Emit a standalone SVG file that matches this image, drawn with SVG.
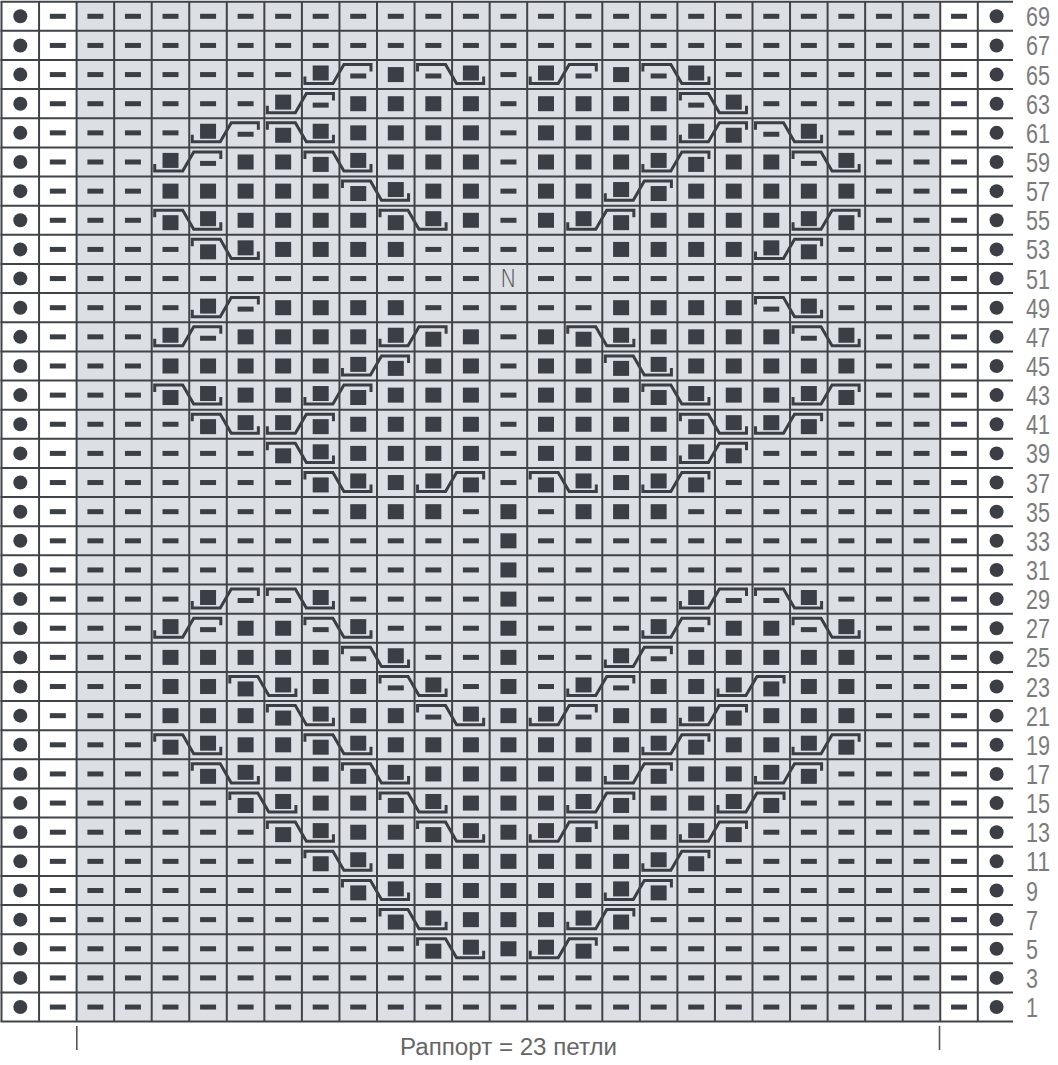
<svg xmlns="http://www.w3.org/2000/svg" xmlns:xlink="http://www.w3.org/1999/xlink" width="1058" height="1065" viewBox="0 0 1058 1065">
<style>
.k{fill:#3b3e44}
.cb{fill:none;stroke:#3b3e44;stroke-width:3}
.grid{fill:none;stroke:#404348;stroke-width:2}
.lbl{font-family:"Liberation Sans",Arial,sans-serif;font-size:27px;fill:#7c7c7c}
.cap{font-family:"Liberation Sans",Arial,sans-serif;font-size:23px;fill:#666666}
</style>
<defs>
<rect id="d" class="k" x="10.8" y="12.1" width="16" height="5"/>
<rect id="s" class="k" x="10.8" y="7.1" width="16" height="15"/>
<g id="L" class="k"><circle cx="20.3" cy="14.6" r="7"/><rect x="49.85" y="12.1" width="16" height="5"/></g>
<g id="Rt" class="k"><rect x="951.05" y="12.1" width="16" height="5"/><circle cx="996.6" cy="14.6" r="7"/></g>
<g id="D" class="k"><rect x="87.4" y="12.1" width="16" height="5"/><rect x="124.95" y="12.1" width="16" height="5"/><rect x="162.5" y="12.1" width="16" height="5"/><rect x="200.05" y="12.1" width="16" height="5"/><rect x="237.6" y="12.1" width="16" height="5"/><rect x="275.15" y="12.1" width="16" height="5"/><rect x="312.7" y="12.1" width="16" height="5"/><rect x="350.25" y="12.1" width="16" height="5"/><rect x="387.8" y="12.1" width="16" height="5"/><rect x="425.35" y="12.1" width="16" height="5"/><rect x="462.9" y="12.1" width="16" height="5"/><rect x="538" y="12.1" width="16" height="5"/><rect x="575.55" y="12.1" width="16" height="5"/><rect x="613.1" y="12.1" width="16" height="5"/><rect x="650.65" y="12.1" width="16" height="5"/><rect x="688.2" y="12.1" width="16" height="5"/><rect x="725.75" y="12.1" width="16" height="5"/><rect x="763.3" y="12.1" width="16" height="5"/><rect x="800.85" y="12.1" width="16" height="5"/><rect x="838.4" y="12.1" width="16" height="5"/><rect x="875.95" y="12.1" width="16" height="5"/><rect x="913.5" y="12.1" width="16" height="5"/></g>
<g id="rsd"><path class="cb" d="M3,16.6V23.6H31L42,4.5H69.1V11.5"/><rect class="k" x="10.8" y="5.5" width="16" height="15"/><rect class="k" x="48.35" y="13.5" width="16" height="5"/></g>
<g id="rss"><path class="cb" d="M3,16.6V23.6H31L42,4.5H69.1V11.5"/><rect class="k" x="10.8" y="5.5" width="16" height="15"/><rect class="k" x="48.35" y="9.5" width="16" height="15"/></g>
<g id="fds"><path class="cb" d="M3,11.5V4.5H31L42,23.6H69.1V16.6"/><rect class="k" x="10.8" y="13.5" width="16" height="5"/><rect class="k" x="48.35" y="5.5" width="16" height="15"/></g>
<g id="fss"><path class="cb" d="M3,11.5V4.5H31L42,23.6H69.1V16.6"/><rect class="k" x="10.8" y="9.5" width="16" height="15"/><rect class="k" x="48.35" y="5.5" width="16" height="15"/></g>
</defs>
<rect width="1058" height="1065" fill="#ffffff"/>
<rect x="76.6" y="1.7" width="863.65" height="1019.9" fill="#dcdfe3"/>
<g id="chart">
<g id="r69" transform="translate(0,1.7)"><use href="#L"/><use href="#Rt"/><use href="#D"/><use href="#d" x="489.65"/></g>
<g id="r67" transform="translate(0,30.84)"><use href="#L"/><use href="#Rt"/><use href="#D"/><use href="#d" x="489.65"/></g>
<g id="r65" transform="translate(0,59.98)"><use href="#L"/><use href="#Rt"/>
<use href="#d" x="76.6"/><use href="#d" x="114.15"/><use href="#d" x="151.7"/><use href="#d" x="189.25"/><use href="#d" x="226.8"/><use href="#d" x="264.35"/>
<use href="#rsd" x="301.9"/><use href="#s" x="377"/><use href="#fds" x="414.55"/><use href="#d" x="489.65"/><use href="#rsd" x="527.2"/><use href="#s" x="602.3"/><use href="#fds" x="639.85"/>
<use href="#d" x="714.95"/><use href="#d" x="752.5"/><use href="#d" x="790.05"/><use href="#d" x="827.6"/><use href="#d" x="865.15"/><use href="#d" x="902.7"/></g>
<g id="r63" transform="translate(0,89.12)"><use href="#L"/><use href="#Rt"/>
<use href="#d" x="76.6"/><use href="#d" x="114.15"/><use href="#d" x="151.7"/><use href="#d" x="189.25"/><use href="#d" x="226.8"/>
<use href="#rsd" x="264.35"/><use href="#s" x="339.45"/><use href="#s" x="377"/><use href="#s" x="414.55"/><use href="#s" x="452.1"/><use href="#d" x="489.65"/>
<use href="#s" x="527.2"/><use href="#s" x="564.75"/><use href="#s" x="602.3"/><use href="#s" x="639.85"/><use href="#fds" x="677.4"/>
<use href="#d" x="752.5"/><use href="#d" x="790.05"/><use href="#d" x="827.6"/><use href="#d" x="865.15"/><use href="#d" x="902.7"/></g>
<g id="r61" transform="translate(0,118.26)"><use href="#L"/><use href="#Rt"/>
<use href="#d" x="76.6"/><use href="#d" x="114.15"/><use href="#d" x="151.7"/>
<use href="#rsd" x="189.25"/><use href="#fss" x="264.35"/><use href="#s" x="339.45"/><use href="#s" x="377"/><use href="#s" x="414.55"/><use href="#s" x="452.1"/><use href="#d" x="489.65"/>
<use href="#s" x="527.2"/><use href="#s" x="564.75"/><use href="#s" x="602.3"/><use href="#s" x="639.85"/><use href="#rss" x="677.4"/><use href="#fds" x="752.5"/>
<use href="#d" x="827.6"/><use href="#d" x="865.15"/><use href="#d" x="902.7"/></g>
<g id="r59" transform="translate(0,147.4)"><use href="#L"/><use href="#Rt"/>
<use href="#d" x="76.6"/><use href="#d" x="114.15"/>
<use href="#rsd" x="151.7"/><use href="#s" x="226.8"/><use href="#s" x="264.35"/><use href="#fss" x="301.9"/><use href="#s" x="377"/><use href="#s" x="414.55"/><use href="#s" x="452.1"/><use href="#d" x="489.65"/>
<use href="#s" x="527.2"/><use href="#s" x="564.75"/><use href="#s" x="602.3"/><use href="#rss" x="639.85"/><use href="#s" x="714.95"/><use href="#s" x="752.5"/><use href="#fds" x="790.05"/>
<use href="#d" x="865.15"/><use href="#d" x="902.7"/></g>
<g id="r57" transform="translate(0,176.54)"><use href="#L"/><use href="#Rt"/>
<use href="#d" x="76.6"/><use href="#d" x="114.15"/>
<use href="#s" x="151.7"/><use href="#s" x="189.25"/><use href="#s" x="226.8"/><use href="#s" x="264.35"/><use href="#s" x="301.9"/><use href="#fss" x="339.45"/><use href="#s" x="414.55"/><use href="#s" x="452.1"/><use href="#d" x="489.65"/>
<use href="#s" x="527.2"/><use href="#s" x="564.75"/><use href="#rss" x="602.3"/><use href="#s" x="677.4"/><use href="#s" x="714.95"/><use href="#s" x="752.5"/><use href="#s" x="790.05"/><use href="#s" x="827.6"/>
<use href="#d" x="865.15"/><use href="#d" x="902.7"/></g>
<g id="r55" transform="translate(0,205.68)"><use href="#L"/><use href="#Rt"/>
<use href="#d" x="76.6"/><use href="#d" x="114.15"/>
<use href="#fss" x="151.7"/><use href="#s" x="226.8"/><use href="#s" x="264.35"/><use href="#s" x="301.9"/><use href="#s" x="339.45"/><use href="#fss" x="377"/><use href="#s" x="452.1"/><use href="#d" x="489.65"/>
<use href="#s" x="527.2"/><use href="#rss" x="564.75"/><use href="#s" x="639.85"/><use href="#s" x="677.4"/><use href="#s" x="714.95"/><use href="#s" x="752.5"/><use href="#rss" x="790.05"/>
<use href="#d" x="865.15"/><use href="#d" x="902.7"/></g>
<g id="r53" transform="translate(0,234.82)"><use href="#L"/><use href="#Rt"/>
<use href="#d" x="76.6"/><use href="#d" x="114.15"/><use href="#d" x="151.7"/>
<use href="#fss" x="189.25"/><use href="#s" x="264.35"/><use href="#s" x="301.9"/><use href="#s" x="339.45"/><use href="#s" x="377"/>
<use href="#d" x="414.55"/><use href="#d" x="452.1"/><use href="#d" x="489.65"/><use href="#d" x="527.2"/><use href="#d" x="564.75"/>
<use href="#s" x="602.3"/><use href="#s" x="639.85"/><use href="#s" x="677.4"/><use href="#s" x="714.95"/><use href="#rss" x="752.5"/>
<use href="#d" x="827.6"/><use href="#d" x="865.15"/><use href="#d" x="902.7"/></g>
<g id="r51" transform="translate(0,263.96)"><use href="#L"/><use href="#Rt"/><use href="#D"/>
<text x="508.4" y="23.5" text-anchor="middle" textLength="17" lengthAdjust="spacingAndGlyphs" style="font-family:'DejaVu Sans',sans-serif;font-weight:200;font-size:25px;fill:#55585d">N</text></g>
<g id="r49" transform="translate(0,293.1)"><use href="#L"/><use href="#Rt"/>
<use href="#d" x="76.6"/><use href="#d" x="114.15"/><use href="#d" x="151.7"/>
<use href="#rsd" x="189.25"/><use href="#s" x="264.35"/><use href="#s" x="301.9"/><use href="#s" x="339.45"/><use href="#s" x="377"/>
<use href="#d" x="414.55"/><use href="#d" x="452.1"/><use href="#d" x="489.65"/><use href="#d" x="527.2"/><use href="#d" x="564.75"/>
<use href="#s" x="602.3"/><use href="#s" x="639.85"/><use href="#s" x="677.4"/><use href="#s" x="714.95"/><use href="#fds" x="752.5"/>
<use href="#d" x="827.6"/><use href="#d" x="865.15"/><use href="#d" x="902.7"/></g>
<g id="r47" transform="translate(0,322.24)"><use href="#L"/><use href="#Rt"/>
<use href="#d" x="76.6"/><use href="#d" x="114.15"/>
<use href="#rsd" x="151.7"/><use href="#s" x="226.8"/><use href="#s" x="264.35"/><use href="#s" x="301.9"/><use href="#s" x="339.45"/><use href="#rss" x="377"/><use href="#s" x="452.1"/><use href="#d" x="489.65"/>
<use href="#s" x="527.2"/><use href="#fss" x="564.75"/><use href="#s" x="639.85"/><use href="#s" x="677.4"/><use href="#s" x="714.95"/><use href="#s" x="752.5"/><use href="#fds" x="790.05"/>
<use href="#d" x="865.15"/><use href="#d" x="902.7"/></g>
<g id="r45" transform="translate(0,351.38)"><use href="#L"/><use href="#Rt"/>
<use href="#d" x="76.6"/><use href="#d" x="114.15"/>
<use href="#s" x="151.7"/><use href="#s" x="189.25"/><use href="#s" x="226.8"/><use href="#s" x="264.35"/><use href="#s" x="301.9"/><use href="#rss" x="339.45"/><use href="#s" x="414.55"/><use href="#s" x="452.1"/><use href="#d" x="489.65"/>
<use href="#s" x="527.2"/><use href="#s" x="564.75"/><use href="#fss" x="602.3"/><use href="#s" x="677.4"/><use href="#s" x="714.95"/><use href="#s" x="752.5"/><use href="#s" x="790.05"/><use href="#s" x="827.6"/>
<use href="#d" x="865.15"/><use href="#d" x="902.7"/></g>
<g id="r43" transform="translate(0,380.52)"><use href="#L"/><use href="#Rt"/>
<use href="#d" x="76.6"/><use href="#d" x="114.15"/>
<use href="#fss" x="151.7"/><use href="#s" x="226.8"/><use href="#s" x="264.35"/><use href="#rss" x="301.9"/><use href="#s" x="377"/><use href="#s" x="414.55"/><use href="#s" x="452.1"/><use href="#d" x="489.65"/>
<use href="#s" x="527.2"/><use href="#s" x="564.75"/><use href="#s" x="602.3"/><use href="#fss" x="639.85"/><use href="#s" x="714.95"/><use href="#s" x="752.5"/><use href="#rss" x="790.05"/>
<use href="#d" x="865.15"/><use href="#d" x="902.7"/></g>
<g id="r41" transform="translate(0,409.66)"><use href="#L"/><use href="#Rt"/>
<use href="#d" x="76.6"/><use href="#d" x="114.15"/><use href="#d" x="151.7"/>
<use href="#fss" x="189.25"/><use href="#rss" x="264.35"/><use href="#s" x="339.45"/><use href="#s" x="377"/><use href="#s" x="414.55"/><use href="#s" x="452.1"/><use href="#d" x="489.65"/>
<use href="#s" x="527.2"/><use href="#s" x="564.75"/><use href="#s" x="602.3"/><use href="#s" x="639.85"/><use href="#fss" x="677.4"/><use href="#rss" x="752.5"/>
<use href="#d" x="827.6"/><use href="#d" x="865.15"/><use href="#d" x="902.7"/></g>
<g id="r39" transform="translate(0,438.8)"><use href="#L"/><use href="#Rt"/>
<use href="#d" x="76.6"/><use href="#d" x="114.15"/><use href="#d" x="151.7"/><use href="#d" x="189.25"/><use href="#d" x="226.8"/>
<use href="#fss" x="264.35"/><use href="#s" x="339.45"/><use href="#s" x="377"/><use href="#s" x="414.55"/><use href="#s" x="452.1"/><use href="#d" x="489.65"/>
<use href="#s" x="527.2"/><use href="#s" x="564.75"/><use href="#s" x="602.3"/><use href="#s" x="639.85"/><use href="#rss" x="677.4"/>
<use href="#d" x="752.5"/><use href="#d" x="790.05"/><use href="#d" x="827.6"/><use href="#d" x="865.15"/><use href="#d" x="902.7"/></g>
<g id="r37" transform="translate(0,467.94)"><use href="#L"/><use href="#Rt"/>
<use href="#d" x="76.6"/><use href="#d" x="114.15"/><use href="#d" x="151.7"/><use href="#d" x="189.25"/><use href="#d" x="226.8"/><use href="#d" x="264.35"/>
<use href="#fss" x="301.9"/><use href="#s" x="377"/><use href="#rss" x="414.55"/><use href="#d" x="489.65"/><use href="#fss" x="527.2"/><use href="#s" x="602.3"/><use href="#rss" x="639.85"/>
<use href="#d" x="714.95"/><use href="#d" x="752.5"/><use href="#d" x="790.05"/><use href="#d" x="827.6"/><use href="#d" x="865.15"/><use href="#d" x="902.7"/></g>
<g id="r35" transform="translate(0,497.08)"><use href="#L"/><use href="#Rt"/>
<use href="#d" x="76.6"/><use href="#d" x="114.15"/><use href="#d" x="151.7"/><use href="#d" x="189.25"/><use href="#d" x="226.8"/><use href="#d" x="264.35"/><use href="#d" x="301.9"/>
<use href="#s" x="339.45"/><use href="#s" x="377"/><use href="#s" x="414.55"/><use href="#d" x="452.1"/><use href="#s" x="489.65"/><use href="#d" x="527.2"/><use href="#s" x="564.75"/><use href="#s" x="602.3"/><use href="#s" x="639.85"/>
<use href="#d" x="677.4"/><use href="#d" x="714.95"/><use href="#d" x="752.5"/><use href="#d" x="790.05"/><use href="#d" x="827.6"/><use href="#d" x="865.15"/><use href="#d" x="902.7"/></g>
<g id="r33" transform="translate(0,526.22)"><use href="#L"/><use href="#Rt"/><use href="#D"/><use href="#s" x="489.65"/></g>
<g id="r31" transform="translate(0,555.36)"><use href="#L"/><use href="#Rt"/><use href="#D"/><use href="#s" x="489.65"/></g>
<g id="r29" transform="translate(0,584.5)"><use href="#L"/><use href="#Rt"/>
<use href="#d" x="76.6"/><use href="#d" x="114.15"/><use href="#d" x="151.7"/>
<use href="#rsd" x="189.25"/><use href="#fds" x="264.35"/><use href="#d" x="339.45"/><use href="#d" x="377"/><use href="#d" x="414.55"/><use href="#d" x="452.1"/><use href="#s" x="489.65"/>
<use href="#d" x="527.2"/><use href="#d" x="564.75"/><use href="#d" x="602.3"/><use href="#d" x="639.85"/><use href="#rsd" x="677.4"/><use href="#fds" x="752.5"/>
<use href="#d" x="827.6"/><use href="#d" x="865.15"/><use href="#d" x="902.7"/></g>
<g id="r27" transform="translate(0,613.64)"><use href="#L"/><use href="#Rt"/>
<use href="#d" x="76.6"/><use href="#d" x="114.15"/>
<use href="#rsd" x="151.7"/><use href="#s" x="226.8"/><use href="#s" x="264.35"/><use href="#fds" x="301.9"/><use href="#d" x="377"/><use href="#d" x="414.55"/><use href="#d" x="452.1"/><use href="#s" x="489.65"/>
<use href="#d" x="527.2"/><use href="#d" x="564.75"/><use href="#d" x="602.3"/><use href="#rsd" x="639.85"/><use href="#s" x="714.95"/><use href="#s" x="752.5"/><use href="#fds" x="790.05"/>
<use href="#d" x="865.15"/><use href="#d" x="902.7"/></g>
<g id="r25" transform="translate(0,642.78)"><use href="#L"/><use href="#Rt"/>
<use href="#d" x="76.6"/><use href="#d" x="114.15"/>
<use href="#s" x="151.7"/><use href="#s" x="189.25"/><use href="#s" x="226.8"/><use href="#s" x="264.35"/><use href="#s" x="301.9"/><use href="#fds" x="339.45"/><use href="#d" x="414.55"/><use href="#d" x="452.1"/><use href="#s" x="489.65"/>
<use href="#d" x="527.2"/><use href="#d" x="564.75"/><use href="#rsd" x="602.3"/><use href="#s" x="677.4"/><use href="#s" x="714.95"/><use href="#s" x="752.5"/><use href="#s" x="790.05"/><use href="#s" x="827.6"/>
<use href="#d" x="865.15"/><use href="#d" x="902.7"/></g>
<g id="r23" transform="translate(0,671.92)"><use href="#L"/><use href="#Rt"/>
<use href="#d" x="76.6"/><use href="#d" x="114.15"/>
<use href="#s" x="151.7"/><use href="#s" x="189.25"/><use href="#fss" x="226.8"/><use href="#s" x="301.9"/><use href="#s" x="339.45"/><use href="#fds" x="377"/><use href="#d" x="452.1"/><use href="#s" x="489.65"/>
<use href="#d" x="527.2"/><use href="#rsd" x="564.75"/><use href="#s" x="639.85"/><use href="#s" x="677.4"/><use href="#rss" x="714.95"/><use href="#s" x="790.05"/><use href="#s" x="827.6"/>
<use href="#d" x="865.15"/><use href="#d" x="902.7"/></g>
<g id="r21" transform="translate(0,701.06)"><use href="#L"/><use href="#Rt"/>
<use href="#d" x="76.6"/><use href="#d" x="114.15"/>
<use href="#s" x="151.7"/><use href="#s" x="189.25"/><use href="#s" x="226.8"/><use href="#fss" x="264.35"/><use href="#s" x="339.45"/><use href="#s" x="377"/><use href="#fds" x="414.55"/><use href="#s" x="489.65"/>
<use href="#rsd" x="527.2"/><use href="#s" x="602.3"/><use href="#s" x="639.85"/><use href="#rss" x="677.4"/><use href="#s" x="752.5"/><use href="#s" x="790.05"/><use href="#s" x="827.6"/>
<use href="#d" x="865.15"/><use href="#d" x="902.7"/></g>
<g id="r19" transform="translate(0,730.2)"><use href="#L"/><use href="#Rt"/>
<use href="#d" x="76.6"/><use href="#d" x="114.15"/>
<use href="#fss" x="151.7"/><use href="#s" x="226.8"/><use href="#s" x="264.35"/><use href="#fss" x="301.9"/><use href="#s" x="377"/><use href="#s" x="414.55"/><use href="#s" x="452.1"/><use href="#s" x="489.65"/>
<use href="#s" x="527.2"/><use href="#s" x="564.75"/><use href="#s" x="602.3"/><use href="#rss" x="639.85"/><use href="#s" x="714.95"/><use href="#s" x="752.5"/><use href="#rss" x="790.05"/>
<use href="#d" x="865.15"/><use href="#d" x="902.7"/></g>
<g id="r17" transform="translate(0,759.34)"><use href="#L"/><use href="#Rt"/>
<use href="#d" x="76.6"/><use href="#d" x="114.15"/><use href="#d" x="151.7"/>
<use href="#fss" x="189.25"/><use href="#s" x="264.35"/><use href="#s" x="301.9"/><use href="#fss" x="339.45"/><use href="#s" x="414.55"/><use href="#s" x="452.1"/><use href="#s" x="489.65"/>
<use href="#s" x="527.2"/><use href="#s" x="564.75"/><use href="#rss" x="602.3"/><use href="#s" x="677.4"/><use href="#s" x="714.95"/><use href="#rss" x="752.5"/>
<use href="#d" x="827.6"/><use href="#d" x="865.15"/><use href="#d" x="902.7"/></g>
<g id="r15" transform="translate(0,788.48)"><use href="#L"/><use href="#Rt"/>
<use href="#d" x="76.6"/><use href="#d" x="114.15"/><use href="#d" x="151.7"/><use href="#d" x="189.25"/>
<use href="#fss" x="226.8"/><use href="#s" x="301.9"/><use href="#s" x="339.45"/><use href="#fss" x="377"/><use href="#s" x="452.1"/><use href="#s" x="489.65"/>
<use href="#s" x="527.2"/><use href="#rss" x="564.75"/><use href="#s" x="639.85"/><use href="#s" x="677.4"/><use href="#rss" x="714.95"/>
<use href="#d" x="790.05"/><use href="#d" x="827.6"/><use href="#d" x="865.15"/><use href="#d" x="902.7"/></g>
<g id="r13" transform="translate(0,817.62)"><use href="#L"/><use href="#Rt"/>
<use href="#d" x="76.6"/><use href="#d" x="114.15"/><use href="#d" x="151.7"/><use href="#d" x="189.25"/><use href="#d" x="226.8"/>
<use href="#fss" x="264.35"/><use href="#s" x="339.45"/><use href="#s" x="377"/><use href="#fss" x="414.55"/><use href="#s" x="489.65"/>
<use href="#rss" x="527.2"/><use href="#s" x="602.3"/><use href="#s" x="639.85"/><use href="#rss" x="677.4"/>
<use href="#d" x="752.5"/><use href="#d" x="790.05"/><use href="#d" x="827.6"/><use href="#d" x="865.15"/><use href="#d" x="902.7"/></g>
<g id="r11" transform="translate(0,846.76)"><use href="#L"/><use href="#Rt"/>
<use href="#d" x="76.6"/><use href="#d" x="114.15"/><use href="#d" x="151.7"/><use href="#d" x="189.25"/><use href="#d" x="226.8"/><use href="#d" x="264.35"/>
<use href="#fss" x="301.9"/><use href="#s" x="377"/><use href="#s" x="414.55"/><use href="#s" x="452.1"/><use href="#s" x="489.65"/><use href="#s" x="527.2"/><use href="#s" x="564.75"/><use href="#s" x="602.3"/><use href="#rss" x="639.85"/>
<use href="#d" x="714.95"/><use href="#d" x="752.5"/><use href="#d" x="790.05"/><use href="#d" x="827.6"/><use href="#d" x="865.15"/><use href="#d" x="902.7"/></g>
<g id="r9" transform="translate(0,875.9)"><use href="#L"/><use href="#Rt"/>
<use href="#d" x="76.6"/><use href="#d" x="114.15"/><use href="#d" x="151.7"/><use href="#d" x="189.25"/><use href="#d" x="226.8"/><use href="#d" x="264.35"/><use href="#d" x="301.9"/>
<use href="#fss" x="339.45"/><use href="#s" x="414.55"/><use href="#s" x="452.1"/><use href="#s" x="489.65"/><use href="#s" x="527.2"/><use href="#s" x="564.75"/><use href="#rss" x="602.3"/>
<use href="#d" x="677.4"/><use href="#d" x="714.95"/><use href="#d" x="752.5"/><use href="#d" x="790.05"/><use href="#d" x="827.6"/><use href="#d" x="865.15"/><use href="#d" x="902.7"/></g>
<g id="r7" transform="translate(0,905.04)"><use href="#L"/><use href="#Rt"/>
<use href="#d" x="76.6"/><use href="#d" x="114.15"/><use href="#d" x="151.7"/><use href="#d" x="189.25"/><use href="#d" x="226.8"/><use href="#d" x="264.35"/><use href="#d" x="301.9"/><use href="#d" x="339.45"/>
<use href="#fss" x="377"/><use href="#s" x="452.1"/><use href="#s" x="489.65"/><use href="#s" x="527.2"/><use href="#rss" x="564.75"/>
<use href="#d" x="639.85"/><use href="#d" x="677.4"/><use href="#d" x="714.95"/><use href="#d" x="752.5"/><use href="#d" x="790.05"/><use href="#d" x="827.6"/><use href="#d" x="865.15"/><use href="#d" x="902.7"/></g>
<g id="r5" transform="translate(0,934.18)"><use href="#L"/><use href="#Rt"/>
<use href="#d" x="76.6"/><use href="#d" x="114.15"/><use href="#d" x="151.7"/><use href="#d" x="189.25"/><use href="#d" x="226.8"/><use href="#d" x="264.35"/><use href="#d" x="301.9"/><use href="#d" x="339.45"/><use href="#d" x="377"/>
<use href="#fss" x="414.55"/><use href="#s" x="489.65"/><use href="#rss" x="527.2"/>
<use href="#d" x="602.3"/><use href="#d" x="639.85"/><use href="#d" x="677.4"/><use href="#d" x="714.95"/><use href="#d" x="752.5"/><use href="#d" x="790.05"/><use href="#d" x="827.6"/><use href="#d" x="865.15"/><use href="#d" x="902.7"/></g>
<g id="r3" transform="translate(0,963.32)"><use href="#L"/><use href="#Rt"/><use href="#D"/><use href="#d" x="489.65"/></g>
<g id="r1" transform="translate(0,992.46)"><use href="#L"/><use href="#Rt"/><use href="#D"/><use href="#d" x="489.65"/></g>
</g>
<g id="gridlines">
<path class="grid" d="M1.5,1.7V1021.6M39.05,1.7V1021.6M76.6,1.7V1021.6M114.15,1.7V1021.6M151.7,1.7V1021.6M189.25,1.7V1021.6M226.8,1.7V1021.6M264.35,1.7V1021.6M301.9,1.7V1021.6M339.45,1.7V1021.6M377,1.7V1021.6M414.55,1.7V1021.6M452.1,1.7V1021.6M489.65,1.7V1021.6M527.2,1.7V1021.6M564.75,1.7V1021.6M602.3,1.7V1021.6M639.85,1.7V1021.6M677.4,1.7V1021.6M714.95,1.7V1021.6M752.5,1.7V1021.6M790.05,1.7V1021.6M827.6,1.7V1021.6M865.15,1.7V1021.6M902.7,1.7V1021.6M940.25,1.7V1021.6M977.8,1.7V1021.6"/>
<path class="grid" d="M0.5,1.7H1013M0.5,30.84H1013M0.5,59.98H1013M0.5,89.12H1013M0.5,118.26H1013M0.5,147.4H1013M0.5,176.54H1013M0.5,205.68H1013M0.5,234.82H1013M0.5,263.96H1013M0.5,293.1H1013M0.5,322.24H1013M0.5,351.38H1013M0.5,380.52H1013M0.5,409.66H1013M0.5,438.8H1013M0.5,467.94H1013M0.5,497.08H1013M0.5,526.22H1013M0.5,555.36H1013M0.5,584.5H1013M0.5,613.64H1013M0.5,642.78H1013M0.5,671.92H1013M0.5,701.06H1013M0.5,730.2H1013M0.5,759.34H1013M0.5,788.48H1013M0.5,817.62H1013M0.5,846.76H1013M0.5,875.9H1013M0.5,905.04H1013M0.5,934.18H1013M0.5,963.32H1013M0.5,992.46H1013M0.5,1021.6H1013"/>
</g>
<g id="row-numbers" class="lbl">
<text x="1026" y="26.3" textLength="24" lengthAdjust="spacingAndGlyphs">69</text>
<text x="1026" y="55.44" textLength="24" lengthAdjust="spacingAndGlyphs">67</text>
<text x="1026" y="84.58" textLength="24" lengthAdjust="spacingAndGlyphs">65</text>
<text x="1026" y="113.72" textLength="24" lengthAdjust="spacingAndGlyphs">63</text>
<text x="1026" y="142.86" textLength="24" lengthAdjust="spacingAndGlyphs">61</text>
<text x="1026" y="172" textLength="24" lengthAdjust="spacingAndGlyphs">59</text>
<text x="1026" y="201.14" textLength="24" lengthAdjust="spacingAndGlyphs">57</text>
<text x="1026" y="230.28" textLength="24" lengthAdjust="spacingAndGlyphs">55</text>
<text x="1026" y="259.42" textLength="24" lengthAdjust="spacingAndGlyphs">53</text>
<text x="1026" y="288.56" textLength="24" lengthAdjust="spacingAndGlyphs">51</text>
<text x="1026" y="317.7" textLength="24" lengthAdjust="spacingAndGlyphs">49</text>
<text x="1026" y="346.84" textLength="24" lengthAdjust="spacingAndGlyphs">47</text>
<text x="1026" y="375.98" textLength="24" lengthAdjust="spacingAndGlyphs">45</text>
<text x="1026" y="405.12" textLength="24" lengthAdjust="spacingAndGlyphs">43</text>
<text x="1026" y="434.26" textLength="24" lengthAdjust="spacingAndGlyphs">41</text>
<text x="1026" y="463.4" textLength="24" lengthAdjust="spacingAndGlyphs">39</text>
<text x="1026" y="492.54" textLength="24" lengthAdjust="spacingAndGlyphs">37</text>
<text x="1026" y="521.68" textLength="24" lengthAdjust="spacingAndGlyphs">35</text>
<text x="1026" y="550.82" textLength="24" lengthAdjust="spacingAndGlyphs">33</text>
<text x="1026" y="579.96" textLength="24" lengthAdjust="spacingAndGlyphs">31</text>
<text x="1026" y="609.1" textLength="24" lengthAdjust="spacingAndGlyphs">29</text>
<text x="1026" y="638.24" textLength="24" lengthAdjust="spacingAndGlyphs">27</text>
<text x="1026" y="667.38" textLength="24" lengthAdjust="spacingAndGlyphs">25</text>
<text x="1026" y="696.52" textLength="24" lengthAdjust="spacingAndGlyphs">23</text>
<text x="1026" y="725.66" textLength="24" lengthAdjust="spacingAndGlyphs">21</text>
<text x="1026" y="754.8" textLength="24" lengthAdjust="spacingAndGlyphs">19</text>
<text x="1026" y="783.94" textLength="24" lengthAdjust="spacingAndGlyphs">17</text>
<text x="1026" y="813.08" textLength="24" lengthAdjust="spacingAndGlyphs">15</text>
<text x="1026" y="842.22" textLength="24" lengthAdjust="spacingAndGlyphs">13</text>
<text x="1026" y="871.36" textLength="24" lengthAdjust="spacingAndGlyphs">11</text>
<text x="1026" y="900.5" textLength="12" lengthAdjust="spacingAndGlyphs">9</text>
<text x="1026" y="929.64" textLength="12" lengthAdjust="spacingAndGlyphs">7</text>
<text x="1026" y="958.78" textLength="12" lengthAdjust="spacingAndGlyphs">5</text>
<text x="1026" y="987.92" textLength="12" lengthAdjust="spacingAndGlyphs">3</text>
<text x="1026" y="1017.06" textLength="12" lengthAdjust="spacingAndGlyphs">1</text>
</g>
<g id="rapport">
<path d="M76.8,1026V1050M939.5,1026V1050" stroke="#555" stroke-width="1.6" fill="none"/>
<text class="cap" x="508.5" y="1055" text-anchor="middle" textLength="217" lengthAdjust="spacingAndGlyphs">Раппорт = 23 петли</text>
</g>
</svg>
